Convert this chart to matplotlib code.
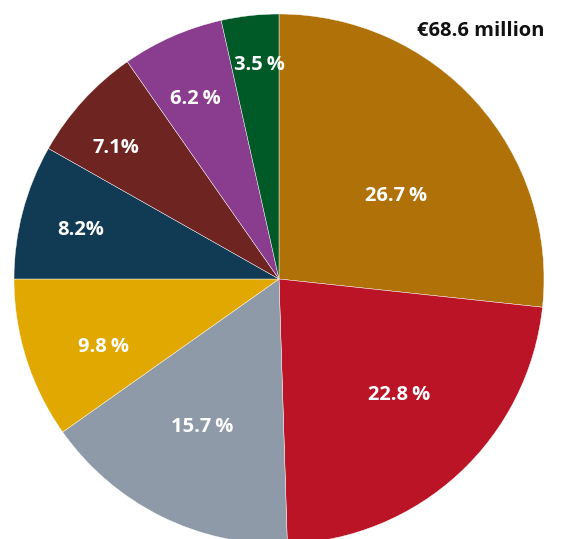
import numpy as np
import matplotlib.pyplot as plt

plt.rcParams['font.family'] = ['Open Sans', 'DejaVu Sans']

shares = [26.7, 22.8, 15.7, 9.8, 8.2, 7.1, 6.2, 3.5]
labels = ['26.7\u2009%', '22.8\u2009%', '15.7\u2009%', '9.8\u2009%',
          '8.2%', '7.1%', '6.2\u2009%', '3.5\u2009%']
colors = ['#B07208', '#BA1426', '#8E9AA8', '#E0A800',
          '#113A55', '#6E2420', '#8A3D8E', '#005A28']
total = '€68.6 million'

# label placement: fraction of radius and clockwise shift from slice middle (deg)
label_r = [0.54, 0.63, 0.63, 0.71, 0.77, 0.79, 0.75, 0.81]
label_shift = [6.5, -3, 1, -3.5, -1, -3.5, -1, 1]

W, H = 566, 539
cx, cy, R = 279, 279, 265
fig = plt.figure(figsize=(W / 100, H / 100), dpi=100)
ax = fig.add_axes([0, 0, 1, 1])

wedges, _ = ax.pie(shares, colors=colors, startangle=90, counterclock=False,
                   radius=1, wedgeprops=dict(edgecolor='white', linewidth=0.3))
for w, lab, lr, sh in zip(wedges, labels, label_r, label_shift):
    mid = np.deg2rad((w.theta1 + w.theta2) / 2 - sh)
    ax.text(lr * np.cos(mid), lr * np.sin(mid), lab, color='white',
            fontsize=14.5, fontweight='bold', ha='center', va='center')

ax.text((481 - cx) / R, (cy - 31) / R, total, fontsize=14.5, fontweight='bold',
        ha='center', va='center', color='#111111')

ax.set_aspect('auto')
ax.set_xlim(-cx / R, (W - cx) / R)
ax.set_ylim(-(H - cy) / R, cy / R)
ax.axis('off')

fig.savefig('out.png', dpi=100)
